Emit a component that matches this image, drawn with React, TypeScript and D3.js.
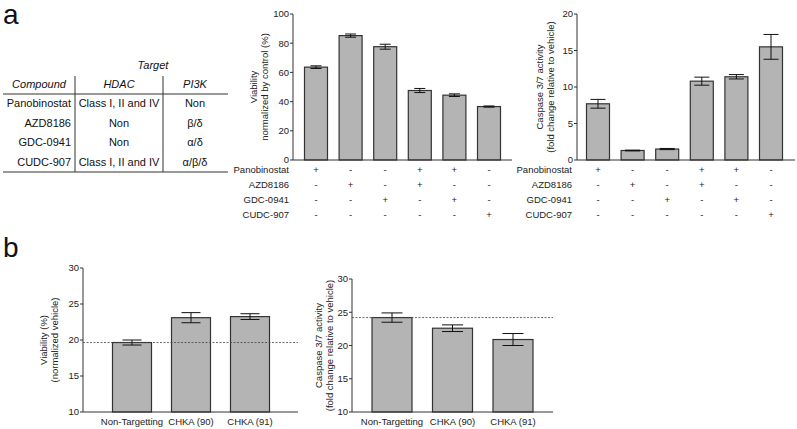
import React from "react";
import * as d3 from "d3";

const compounds = ["Panobinostat", "AZD8186", "GDC-0941", "CUDC-907"];
const hdacTargets = ["Class I, II and IV", "Non", "Non", "Class I, II and IV"];
const pi3kTargets = ["Non", "β/δ", "α/δ", "α/β/δ"];

// treatment matrix: rows = compounds, columns = bars
const treatments = [
  ["+", "-", "-", "+", "+", "-"],
  ["-", "+", "-", "+", "-", "-"],
  ["-", "-", "+", "-", "+", "-"],
  ["-", "-", "-", "-", "-", "+"],
];

const viabilityA = [63.6, 85.2, 77.6, 47.6, 44.4, 36.6];
const viabilityAErr = [0.9, 1.1, 1.7, 1.4, 0.9, 0.4];
const viabilityATicks = [0, 20, 40, 60, 80, 100];

const caspaseA = [7.7, 1.3, 1.5, 10.8, 11.4, 15.5];
const caspaseAErr = [0.6, 0.05, 0.08, 0.55, 0.3, 1.7];
const caspaseATicks = [0, 5, 10, 15, 20];

const groupsB = ["Non-Targetting", "CHKA (90)", "CHKA (91)"];
const viabilityB = [19.65, 23.1, 23.25];
const viabilityBErr = [0.35, 0.7, 0.4];
const viabilityBTicks = [10, 15, 20, 25, 30];
const caspaseB = [24.2, 22.6, 20.9];
const caspaseBErr = [0.7, 0.5, 0.9];
const caspaseBTicks = [10, 15, 20, 25, 30];

const FONT = "'Liberation Sans', Arial, sans-serif";
const BAR_FILL = "#b4b4b4";
const STROKE = "#333";

type ChartProps = {
  values: number[];
  errs: number[];
  ticks: number[];
  domain: [number, number];
  x0: number;
  x1: number;
  yTop: number;
  yBottom: number;
  barCenters: [number, number];
  barWidth: number;
  capWidth: number;
  labelLines: string[];
  labelX: number;
  ref?: number;
};

function BarChart(p: ChartProps) {
  const y = d3.scaleLinear().domain(p.domain).range([p.yBottom, p.yTop]);
  const n = p.values.length;
  const x = d3
    .scaleLinear()
    .domain([0, n - 1])
    .range(p.barCenters);
  const midY = (p.yTop + p.yBottom) / 2;
  return (
    <g fontFamily={FONT}>
      {p.values.map((v, i) => (
        <rect
          key={"b" + i}
          x={x(i) - p.barWidth / 2}
          y={y(v)}
          width={p.barWidth}
          height={p.yBottom - y(v)}
          fill={BAR_FILL}
          stroke={STROKE}
          strokeWidth={1.2}
        />
      ))}
      {p.values.map((v, i) => {
        const hi = y(v + p.errs[i]);
        const lo = y(v - p.errs[i]);
        const cx = x(i);
        return (
          <g key={"e" + i} stroke="#111" strokeWidth={1}>
            <line x1={cx} x2={cx} y1={hi} y2={lo} />
            <line x1={cx - p.capWidth / 2} x2={cx + p.capWidth / 2} y1={hi} y2={hi} />
            <line x1={cx - p.capWidth / 2} x2={cx + p.capWidth / 2} y1={lo} y2={lo} />
          </g>
        );
      })}
      {p.ref !== undefined && (
        <line
          x1={p.x0}
          x2={p.x1}
          y1={y(p.ref)}
          y2={y(p.ref)}
          stroke="#444"
          strokeWidth={0.8}
          strokeDasharray="2,1.5"
        />
      )}
      <line x1={p.x0} x2={p.x0} y1={p.yTop} y2={p.yBottom} stroke={STROKE} strokeWidth={1} />
      <line x1={p.x0} x2={p.x1} y1={p.yBottom} y2={p.yBottom} stroke={STROKE} strokeWidth={1} />
      {p.ticks.map((t) => (
        <g key={"t" + t}>
          <line x1={p.x0 - 3} x2={p.x0} y1={y(t)} y2={y(t)} stroke={STROKE} strokeWidth={1} />
          <text x={p.x0 - 4} y={y(t)} dy="0.35em" textAnchor="end" fontSize={9.5} fill="#222">
            {t}
          </text>
        </g>
      ))}
      <text
        transform={`translate(${p.labelX},${midY}) rotate(-90)`}
        textAnchor="middle"
        fontSize={9.5}
        fill="#222"
      >
        {p.labelLines.map((l, i) => (
          <tspan key={i} x={0} dy={i === 0 ? 0 : 10.5}>
            {l}
          </tspan>
        ))}
      </text>
    </g>
  );
}

function TreatmentRows(props: { centers: [number, number]; labelRight: number; rowY: number[] }) {
  const x = d3
    .scaleLinear()
    .domain([0, treatments[0].length - 1])
    .range(props.centers);
  return (
    <g fontFamily={FONT} fontSize={9.5} fill="#222">
      {compounds.map((c, r) => (
        <g key={c}>
          <text x={props.labelRight} y={props.rowY[r]} dy="0.35em" textAnchor="end">
            {c}
          </text>
          {treatments[r].map((s, i) => (
            <text key={i} x={x(i)} y={props.rowY[r]} dy="0.35em" textAnchor="middle">
              {s}
            </text>
          ))}
        </g>
      ))}
    </g>
  );
}

function Table() {
  const rowY = [103, 123, 142, 162];
  return (
    <g fontFamily={FONT} fontSize={11} fill="#111">
      <text x={153} y={65} dy="0.35em" textAnchor="middle" fontStyle="italic">
        Target
      </text>
      <text x={39} y={84} dy="0.35em" textAnchor="middle" fontStyle="italic">
        Compound
      </text>
      <text x={119} y={84} dy="0.35em" textAnchor="middle" fontStyle="italic">
        HDAC
      </text>
      <text x={195} y={84} dy="0.35em" textAnchor="middle" fontStyle="italic">
        PI3K
      </text>
      <line x1={3} x2={228} y1={94} y2={94} stroke={STROKE} strokeWidth={1} />
      <line x1={3} x2={228} y1={172} y2={172} stroke={STROKE} strokeWidth={1} />
      <line x1={75} x2={75} y1={76} y2={172} stroke={STROKE} strokeWidth={1} />
      <line x1={163} x2={163} y1={76} y2={172} stroke={STROKE} strokeWidth={1} />
      {compounds.map((c, i) => (
        <g key={c}>
          <text x={71} y={rowY[i]} dy="0.35em" textAnchor="end">
            {c}
          </text>
          <text x={119} y={rowY[i]} dy="0.35em" textAnchor="middle">
            {hdacTargets[i]}
          </text>
          <text x={195} y={rowY[i]} dy="0.35em" textAnchor="middle">
            {pi3kTargets[i]}
          </text>
        </g>
      ))}
    </g>
  );
}

export default function App() {
  const rowsY = [170, 185, 200, 215];
  const xb1 = d3.scaleLinear().domain([0, 2]).range([132, 250]);
  const xb2 = d3.scaleLinear().domain([0, 2]).range([392, 513]);
  return (
    <svg
      width={797}
      height={429}
      style={{ position: "absolute", left: 0, top: 0, background: "#fff" }}
    >
      <rect width={797} height={429} fill="#fff" />
      <text x={3} y={24} fontFamily={FONT} fontSize={28} fill="#111">
        a
      </text>
      <text x={3} y={257} fontFamily={FONT} fontSize={28} fill="#111">
        b
      </text>
      <Table />
      <BarChart
        values={viabilityA}
        errs={viabilityAErr}
        ticks={viabilityATicks}
        domain={[0, 100]}
        x0={293}
        x1={512}
        yTop={14}
        yBottom={160}
        barCenters={[316, 489]}
        barWidth={23}
        capWidth={11}
        labelLines={["Viability", "normalized by control (%)"]}
        labelX={257}
      />
      <TreatmentRows centers={[316, 489]} labelRight={289} rowY={rowsY} />
      <BarChart
        values={caspaseA}
        errs={caspaseAErr}
        ticks={caspaseATicks}
        domain={[0, 20]}
        x0={577}
        x1={795}
        yTop={14}
        yBottom={160}
        barCenters={[598, 771]}
        barWidth={23}
        capWidth={15}
        labelLines={["Caspase 3/7 activity", "(fold change relative to vehicle)"]}
        labelX={543}
      />
      <TreatmentRows centers={[598, 771]} labelRight={572} rowY={rowsY} />
      <BarChart
        values={viabilityB}
        errs={viabilityBErr}
        ticks={viabilityBTicks}
        domain={[10, 30]}
        x0={83}
        x1={298}
        yTop={268}
        yBottom={412}
        barCenters={[132, 250]}
        barWidth={39}
        capWidth={19}
        labelLines={["Viability (%)", "(normalized vehicle)"]}
        labelX={47}
        ref={viabilityB[0]}
      />
      <BarChart
        values={caspaseB}
        errs={caspaseBErr}
        ticks={caspaseBTicks}
        domain={[10, 30]}
        x0={352}
        x1={553}
        yTop={279}
        yBottom={412}
        barCenters={[392, 513]}
        barWidth={40}
        capWidth={21}
        labelLines={["Caspase 3/7 activity", "(fold change relative to vehicle)"]}
        labelX={322}
        ref={caspaseB[0]}
      />
      <g fontFamily={FONT} fontSize={9.5} fill="#222">
        {groupsB.map((g, i) => (
          <text key={"l" + g} x={xb1(i)} y={422} dy="0.35em" textAnchor="middle">
            {g}
          </text>
        ))}
        {groupsB.map((g, i) => (
          <text key={"r" + g} x={xb2(i)} y={422} dy="0.35em" textAnchor="middle">
            {g}
          </text>
        ))}
      </g>
    </svg>
  );
}
